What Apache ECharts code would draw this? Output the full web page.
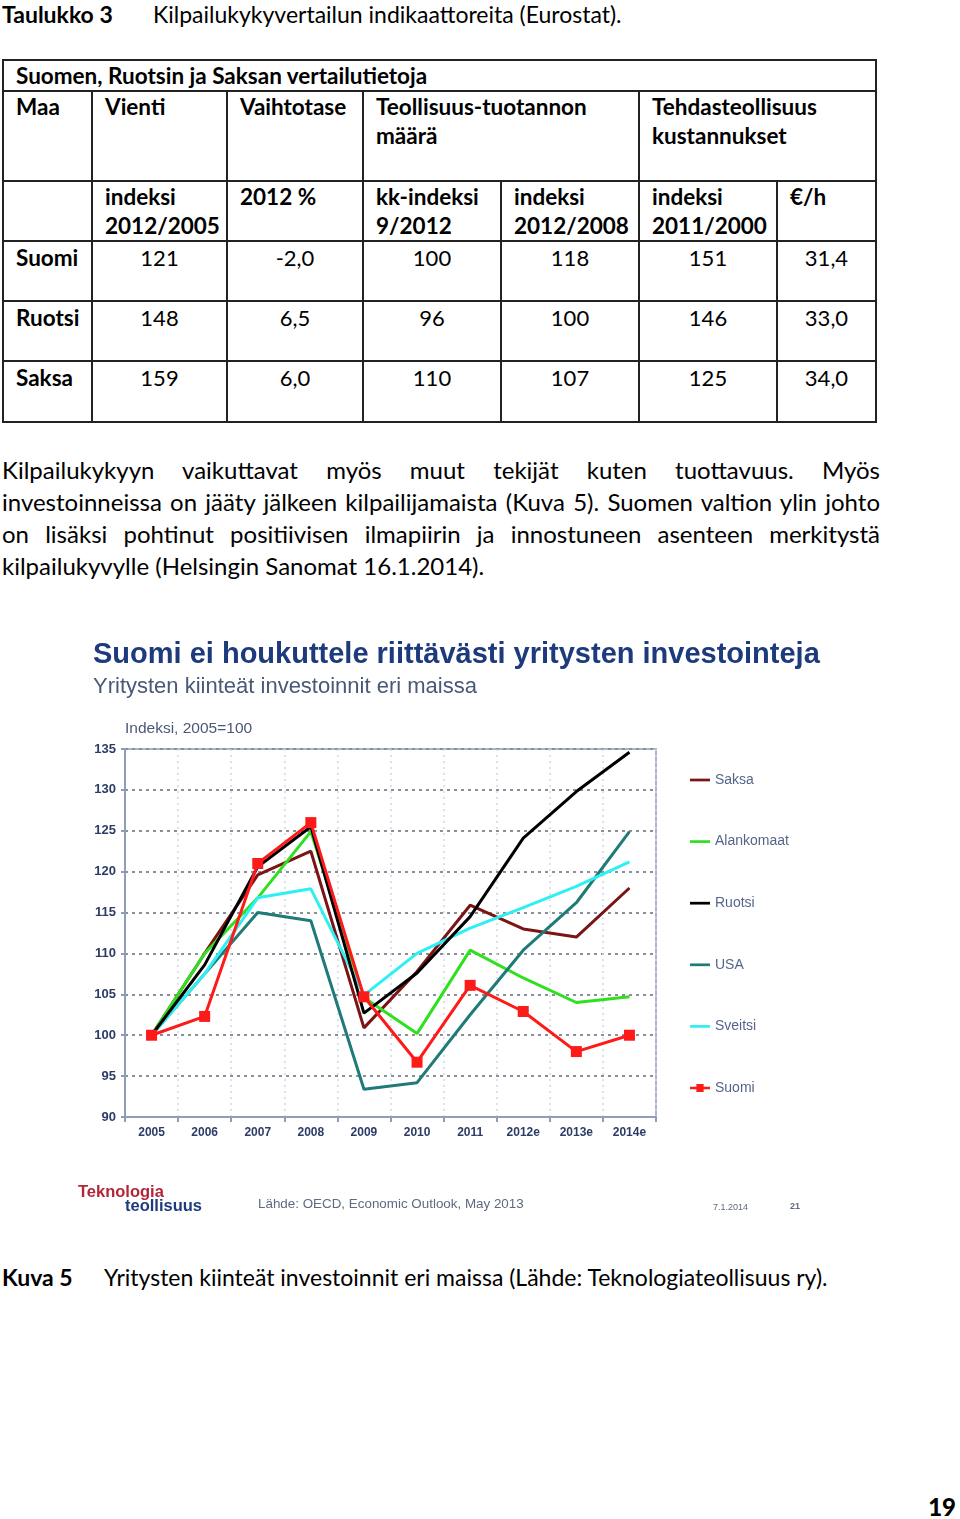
<!DOCTYPE html>
<html>
<head>
<meta charset="utf-8">
<script src="https://cdn.jsdelivr.net/npm/echarts@6/dist/echarts.min.js"></script>
<style>
  body { margin: 0; width: 960px; height: 1519px; position: relative; background: #fff; font-family: Lato, "Open Sans", sans-serif; color: #000; overflow: hidden; }
  .abs { position: absolute; }
  #caption-top { left: 2px; top: 0px; font-size: 23px; }
  #caption-top b { display: inline-block; width: 151px; }
  table { position: absolute; left: 2px; top: 59px; border-collapse: collapse; font-size: 22.5px; table-layout: fixed; }
  td { border: 2px solid #222; padding: 0 0 0 12px; vertical-align: top; line-height: 29px; font-weight: bold; }
  td.n { font-weight: normal; text-align: center; padding: 3px 0 0 0; line-height: 26px; font-size: 22px; }
  td.c { padding-top: 3px; line-height: 26px; }
  .para { left: 2px; width: 878px; font-size: 24px; line-height: 32px; top: 454px; }
  .para div { text-align: justify; text-align-last: justify; white-space: nowrap; }
  .para div.last { text-align-last: left; }
  #chart { left: 0; top: 620px; width: 960px; height: 620px; }
  #caption-bot { left: 2px; top: 1263px; font-size: 23px; }
  #caption-bot b { display: inline-block; width: 102px; }
  #page { right: 4px; top: 1492px; font-size: 24px; font-weight: 900; }
</style>
</head>
<body>
<div class="abs" id="caption-top"><b>Taulukko 3</b>Kilpailukykyvertailun indikaattoreita (Eurostat).</div>

<table>
  <colgroup>
    <col style="width:89px"><col style="width:135px"><col style="width:136px"><col style="width:138px"><col style="width:138px"><col style="width:138px"><col style="width:99px">
  </colgroup>
  <tr style="height:31px"><td colspan="7">Suomen, Ruotsin ja Saksan vertailutietoja</td></tr>
  <tr style="height:90px"><td>Maa</td><td>Vienti</td><td>Vaihtotase</td><td colspan="2">Teollisuus-tuotannon<br>määrä</td><td colspan="2">Tehdasteollisuus<br>kustannukset</td></tr>
  <tr style="height:60px"><td></td><td>indeksi<br>2012/2005</td><td>2012 %</td><td>kk-indeksi<br>9/2012</td><td>indeksi<br>2012/2008</td><td>indeksi<br>2011/2000</td><td>€/h</td></tr>
  <tr style="height:60px"><td class="c">Suomi</td><td class="n">121</td><td class="n">-2,0</td><td class="n">100</td><td class="n">118</td><td class="n">151</td><td class="n">31,4</td></tr>
  <tr style="height:60px"><td class="c">Ruotsi</td><td class="n">148</td><td class="n">6,5</td><td class="n">96</td><td class="n">100</td><td class="n">146</td><td class="n">33,0</td></tr>
  <tr style="height:61px"><td class="c">Saksa</td><td class="n">159</td><td class="n">6,0</td><td class="n">110</td><td class="n">107</td><td class="n">125</td><td class="n">34,0</td></tr>
</table>

<div class="abs para">
  <div>Kilpailukykyyn vaikuttavat myös muut tekijät kuten tuottavuus. Myös</div>
  <div>investoinneissa on jääty jälkeen kilpailijamaista (Kuva 5). Suomen valtion ylin johto</div>
  <div>on lisäksi pohtinut positiivisen ilmapiirin ja innostuneen asenteen merkitystä</div>
  <div class="last">kilpailukyvylle (Helsingin Sanomat 16.1.2014).</div>
</div>

<div class="abs" id="chart"></div>

<div class="abs" id="caption-bot"><b>Kuva 5</b>Yritysten kiinteät investoinnit eri maissa (Lähde: Teknologiateollisuus ry).</div>
<div class="abs" id="page">19</div>

<script>
// vuodet ja indeksit (2005 = 100)
var years = ["2005", "2006", "2007", "2008", "2009", "2010", "2011", "2012e", "2013e", "2014e"];
var saksa = [100, 110, 119.6, 122.5, 100.9, 107.8, 115.9, 113, 112, 118];
var alankomaat = [100, 110, 116.8, 124.9, 104.6, 100.2, 110.4, 107, 104, 104.7];
var ruotsi = [100, 108.6, 120.6, 125.5, 102.7, 107.6, 114.5, 124.1, 129.8, 134.6];
var usa = [100, 107.5, 115, 114, 93.4, 94.2, 102.5, 110.4, 116.2, 124.9];
var sveitsi = [100, 107.5, 116.8, 117.9, 104.9, 110, 113.1, 115.6, 118.2, 121.2];
var suomi = [100, 102.3, 121, 126, 104.7, 96.7, 106.1, 102.9, 98, 100];

var chartFont = '"Liberation Sans", Arial, sans-serif';
var lineIcon = "path://M0,0h22v3h-22z";
var markIcon = "path://M0,3h22v3h-22z M7,0h8v9h-8z";

var myChart = echarts.init(document.getElementById("chart"));

function lineSeries(name, data, color, z) {
  return {
    name: name,
    type: "line",
    data: data,
    symbol: "none",
    z: z,
    lineStyle: { color: color, width: 3 },
    itemStyle: { color: color }
  };
}

var option = {
  animation: false,
  textStyle: { fontFamily: chartFont },
  grid: {
    left: 125, right: 304, top: 129, bottom: 123,
    show: true, borderColor: "#a9b4cc", borderWidth: 2
  },
  legend: {
    orient: "vertical",
    left: 690,
    top: 153,
    padding: 0,
    itemWidth: 20,
    itemHeight: 14,
    itemGap: 47.6,
    textStyle: { color: "#55658a", fontSize: 14, fontFamily: chartFont },
    data: [
      { name: "Saksa", icon: lineIcon },
      { name: "Alankomaat", icon: lineIcon },
      { name: "Ruotsi", icon: lineIcon },
      { name: "USA", icon: lineIcon },
      { name: "Sveitsi", icon: lineIcon },
      { name: "Suomi", icon: markIcon }
    ]
  },
  xAxis: {
    type: "category",
    data: years,
    boundaryGap: true,
    axisLine: { lineStyle: { color: "#8f9cba", width: 2 } },
    axisTick: { show: true, interval: 0, length: 5, lineStyle: { color: "#8f9cba", width: 2 } },
    axisLabel: { color: "#2d3c66", fontWeight: "bold", fontSize: 12, margin: 10, interval: 0 },
    splitLine: { show: true, interval: 0, lineStyle: { color: "#d3d8e4", type: [2, 4], width: 1.5 } }
  },
  yAxis: {
    type: "value",
    min: 90,
    max: 135,
    interval: 5,
    axisLine: { show: true, lineStyle: { color: "#8f9cba", width: 2 } },
    axisTick: { show: true, length: 4, lineStyle: { color: "#8f9cba", width: 2 } },
    axisLabel: { color: "#2d3c66", fontWeight: "bold", fontSize: 13, margin: 9 },
    splitLine: { lineStyle: { color: "#8a8f99", type: [3, 4], width: 2 } }
  },
  graphic: [
    { type: "text", left: 93, top: 20, style: { text: "Suomi ei houkuttele riittävästi yritysten investointeja", fill: "#1d3a7c", font: "bold 29px " + chartFont } },
    { type: "text", left: 93, top: 56, style: { text: "Yritysten kiinteät investoinnit eri maissa", fill: "#4a5878", font: "22px " + chartFont } },
    { type: "text", left: 125, top: 101, style: { text: "Indeksi, 2005=100", fill: "#4a5878", font: "15.5px " + chartFont } },
    { type: "text", left: 78, top: 564, style: { text: "Teknologia", fill: "#b3263a", font: "bold 16.5px " + chartFont } },
    { type: "text", left: 125, top: 578, style: { text: "teollisuus", fill: "#1d3a7c", font: "bold 16.5px " + chartFont } },
    { type: "text", left: 258, top: 578, style: { text: "Lähde: OECD, Economic Outlook, May 2013", fill: "#5f6a80", font: "13.4px " + chartFont } },
    { type: "text", left: 713, top: 583, style: { text: "7.1.2014", fill: "#5f6a80", font: "9px " + chartFont } },
    { type: "text", left: 790, top: 582, style: { text: "21", fill: "#5f6a80", font: "bold 9px " + chartFont } }
  ],
  series: [
    lineSeries("Saksa", saksa, "#7b1414", 3),
    lineSeries("Alankomaat", alankomaat, "#2fe01e", 3),
    lineSeries("Ruotsi", ruotsi, "#000000", 4),
    lineSeries("USA", usa, "#1f7b78", 3),
    lineSeries("Sveitsi", sveitsi, "#2ef0f2", 3),
    {
      name: "Suomi",
      type: "line",
      data: suomi,
      symbol: "rect",
      symbolSize: 11,
      z: 5,
      lineStyle: { color: "#ff1a1a", width: 3 },
      itemStyle: { color: "#ff1a1a" }
    }
  ]
};

myChart.setOption(option);
</script>
</body>
</html>
